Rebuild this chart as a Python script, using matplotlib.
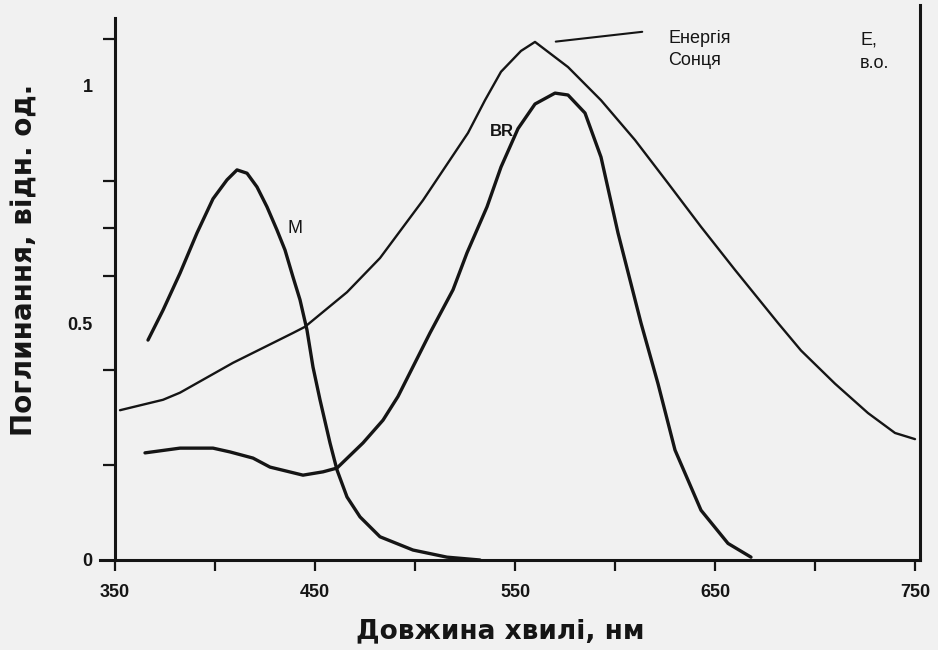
import matplotlib
matplotlib.use("Agg")
import matplotlib.pyplot as plt

# ---- data ----
sun_nm = [352.5, 374, 382.5, 409, 439, 445, 466, 482.5, 504, 526.5, 535, 543, 553, 560,
          576.5, 593, 610, 626.5, 643, 660, 681.5, 693, 710, 726.5, 740, 750]
sun_v = [0.316, 0.338, 0.353, 0.416, 0.479, 0.492, 0.565, 0.637, 0.759, 0.901, 0.970, 1.030,
         1.074, 1.093, 1.040, 0.970, 0.886, 0.795, 0.703, 0.612, 0.500, 0.442, 0.372, 0.310,
         0.268, 0.255]

m_nm = [366.5, 374, 382.5, 391, 399, 406, 411, 416, 421, 426, 431, 435, 439, 442.5, 446,
        449, 452.5, 457.5, 461, 466, 472.5, 482.5, 499, 516, 532.5]
m_v = [0.464, 0.527, 0.605, 0.690, 0.762, 0.802, 0.823, 0.816, 0.787, 0.745, 0.696, 0.654,
       0.597, 0.549, 0.485, 0.407, 0.338, 0.247, 0.190, 0.133, 0.091, 0.049, 0.021, 0.006, 0.0]

br_nm = [365, 382.5, 399, 407.5, 419, 427.5, 444, 454, 461, 474, 484, 491.5, 507.5, 519,
         526, 536, 543, 551.5, 560, 570, 576.5, 585, 593, 601.5, 613, 621.5, 630, 643,
         656.5, 668]
br_v = [0.226, 0.236, 0.236, 0.228, 0.215, 0.196, 0.179, 0.186, 0.194, 0.247, 0.295, 0.345,
        0.479, 0.570, 0.648, 0.745, 0.829, 0.910, 0.962, 0.985, 0.981, 0.943, 0.850, 0.690,
        0.500, 0.372, 0.232, 0.105, 0.035, 0.006]

x_ticks = [350, 400, 450, 500, 550, 600, 650, 700, 750]
x_tick_labels = ["350", "", "450", "", "550", "", "650", "", "750"]
y_label_ticks = [0, 0.5, 1.0]
y_label_text = ["0", "0.5", "1"]
y_mark_ticks = [0.2, 0.4, 0.6, 0.7, 0.8, 1.1]

xlabel = "Довжина хвилі, нм"
ylabel = "Поглинання, відн. од."
sun_label = "Енергія\nСонця"
right_label = "E,\nв.о."

INK = "#151515"
BG = "#f1f1f1"

fig = plt.figure(figsize=(9.38, 6.5), dpi=100, facecolor=BG)
ax = fig.add_axes([100 / 938, 90 / 650, 820 / 938, 555 / 650])
ax.set_facecolor(BG)
ax.set_xlim(342.5, 752.5)
ax.set_ylim(0, 555 / 474)

for sp in ax.spines.values():
    sp.set_color(INK)
    sp.set_linewidth(2.2)
ax.spines["top"].set_visible(False)
ax.spines["left"].set_position(("data", 350))
ax.spines["left"].set_bounds(0, 542 / 474)

line_kw = dict(color=INK, solid_capstyle="round", solid_joinstyle="round")
ax.plot(sun_nm, sun_v, lw=1.7, **line_kw)
ax.plot(m_nm, m_v, lw=2.4, **line_kw)
ax.plot(br_nm, br_v, lw=2.4, **line_kw)

tick_font = dict(family=["Liberation Sans", "DejaVu Sans"], size=13, weight="bold")
ax.set_xticks(x_ticks)
ax.set_xticklabels(x_tick_labels, fontdict=tick_font)
ax.tick_params(axis="x", direction="out", length=8, width=1.6, color=INK, pad=9,
               labelcolor=INK)
ax.set_yticks(y_label_ticks)
ax.set_yticklabels(y_label_text, fontdict=tick_font)
ax.tick_params(axis="y", which="major", length=0, pad=16, labelcolor=INK)
ax.set_yticks(y_mark_ticks, minor=True)
ax.tick_params(axis="y", which="minor", direction="out", length=9, width=1.6, color=INK)

lab_font = dict(family=["DejaVu Sans"], size=20, weight="bold", color=INK)
ax.set_xlabel(xlabel, fontdict=dict(lab_font, size=19))
ax.xaxis.set_label_coords(0.488, -0.105)
ax.set_ylabel(ylabel, fontdict=lab_font)
ax.yaxis.set_label_coords(-0.075, 0.54)

txt_font = dict(family=["Liberation Sans", "DejaVu Sans"], size=13, color=INK)
ax.text(626.5, 1.077, sun_label, ha="left", va="center", linespacing=1.35, **txt_font)
ax.annotate("", xy=(569, 1.093), xytext=(615, 1.115),
            arrowprops=dict(arrowstyle="-", color=INK, lw=1.5))
ax.text(722.5, 1.072, right_label, ha="left", va="center", linespacing=1.5, **txt_font)
ax.text(543.5, 0.905, "BR", ha="center", va="center",
        family=["Liberation Sans", "DejaVu Sans"], size=12, weight="bold", color=INK)
ax.text(440, 0.70, "M", ha="center", va="center",
        family=["Liberation Sans", "DejaVu Sans"], size=13, color=INK)

fig.savefig("out.png", dpi=100, facecolor=BG)
